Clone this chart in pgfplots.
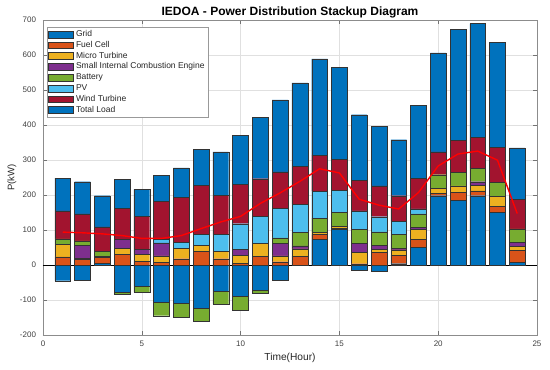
\documentclass[border=0pt]{standalone}
\usepackage{fontspec}
\setmainfont{Liberation Sans}
\usepackage{pgfplots}
\usepackage{pgfplotstable}
\pgfplotsset{compat=1.18}
\definecolor{cGrid}{HTML}{0072BD}
\definecolor{cFC}{HTML}{D95319}
\definecolor{cMT}{HTML}{EDB120}
\definecolor{cSICE}{HTML}{7E2F8E}
\definecolor{cBat}{HTML}{77AC30}
\definecolor{cPV}{HTML}{4DBEEE}
\definecolor{cWind}{HTML}{A2142F}
\definecolor{edge}{HTML}{333333}

\pgfplotstableread{
h gp fc mt sice bat pv wind load gn bn
1 0 23.5 36.5 0 14.5 0 80 94 -45 0
2 0 17 3 36 13 0 77 92 -42.5 0
3 4 18 2 0 16 0 69 89 0 0
4 0 31 16 26 0 0 88.5 84 -78.4 -4.6
5 0 10.5 19.5 14 0 0 96 76 -60 -17
6 0 7.6 18.4 37 0 10.6 107.4 76 -106 -39
7 0 18 29 0 0 17 129.5 84 -108.6 -39.4
8 0 39.7 16 0 0 32 139 104 -124.6 -37.4
9 0 18 21.7 0 0 47.3 113 123 -75.5 -36.5
10 0 5 23 17 0 73 113 139 -90 -39.5
11 0 25.5 36 0 0 78 107 176 -71 -9
12 0 9.4 17 35 16 84 104.5 206 -42.5 0
13 0 25.5 20.5 8.7 39 80 108 239 0 0
14 73 14 7 0 40 76.5 103.5 275 0 0
15 101 3 5.6 0 40.4 63 89 263 0 0
16 0 3.7 33 25.5 39.5 53 86.7 188 -14 0
17 0 36 9 11.7 37.7 43.6 87.8 171 -17 0
18 3.7 24.3 15.5 3.5 39.8 37.8 73.4 160 0 0
19 50 23.6 27.4 6.6 38.4 14.5 88 207 0 0
20 198 7 15 0 38 0 65 283 0 0
21 184 22.8 19 0 39.2 0 91 317 0 0
22 198 13.6 16 10.4 38.7 0 87.8 325.5 0 0
23 151 17 28 0 40 0 101 299.5 0 0
24 7.6 34 11.6 11.4 38.7 0 84 147 0 0
}\data

\pgfplotsset{
  common/.style={
    width=494pt, height=315pt, scale only axis,
    xmin=0, xmax=25, ymin=-200, ymax=700,
    bar width=0.8,
  },
  bars/.style={draw=edge, line width=0.4pt, fill=#1},
}

\begin{document}
\begin{tikzpicture}
\path[use as bounding box] (-43pt,-35pt) rectangle (507pt,335pt);
\begin{axis}[common, ybar stacked,
  xtick={0,5,...,25}, ytick={-200,-100,...,700},
  grid=major, major grid style={black!12, line width=0.4pt},
  axis line style={black!45, line width=0.5pt},
  tick style={black!55, line width=0.4pt}, major tick length=4pt,
  tick align=inside,
  /pgf/number format/assume math mode=true,
  tick label style={font=\fontsize{8}{9.5}\selectfont, text=black!75},
  yticklabel style={xshift=-3.5pt},
  xticklabel style={yshift=-2pt},
  extra y ticks={0}, extra y tick labels={},
  extra y tick style={grid=major, major grid style={black, line width=0.5pt}, major tick length=0pt},
  xlabel={Time(Hour)}, ylabel={P(kW)},
  title={IEDOA - Power Distribution Stackup Diagram},
  every axis title/.style={at={(axis description cs:0.5,1)}, anchor=base, yshift=4.5pt, font=\bfseries\fontsize{12}{14}\selectfont},
  every axis x label/.style={at={(axis description cs:0.5,0)}, anchor=base, yshift=-25.7pt, font=\fontsize{10.2}{12}\selectfont, text=black!85},
  every axis y label/.style={at={(axis description cs:-0.0628,0.5)}, rotate=90, anchor=center, font=\fontsize{9.5}{11}\selectfont, text=black!85},
  legend image code/.code={\draw[#1] (0pt,-3.35pt) rectangle (25pt,3.35pt);},
  legend cell align=left,
  legend style={at={(axis description cs:0.0075,0.977)}, anchor=north west,
    draw=black!40, fill=white, line width=0.5pt,
    font=\fontsize{8.5}{10}\selectfont, text=black!85,
    inner xsep=1.5pt, inner ysep=1.5pt, row sep=0pt,
    nodes={text height=6.3pt, text depth=2pt, inner ysep=1.25pt, inner xsep=2.2pt}},
]
\addplot[bars=cGrid] table[x=h, y=gp] {\data};
\addplot[bars=cFC] table[x=h, y=fc] {\data};
\addplot[bars=cMT] table[x=h, y=mt] {\data};
\addplot[bars=cSICE] table[x=h, y=sice] {\data};
\addplot[bars=cBat] table[x=h, y=bat] {\data};
\addplot[bars=cPV] table[x=h, y=pv] {\data};
\addplot[bars=cWind] table[x=h, y=wind] {\data};
\addplot[bars=cGrid] table[x=h, y=load] {\data};
\legend{Grid, Fuel Cell, Micro Turbine, Small Internal Combustion Engine, Battery, PV, Wind Turbine, Total Load}
\end{axis}
\begin{axis}[common, ybar stacked, hide axis]
\addplot[bars=cGrid] table[x=h, y=gn] {\data};
\addplot[bars=cBat] table[x=h, y=bn] {\data};
\end{axis}
\begin{axis}[common, hide axis]
\addplot[red, line width=1.4pt, no marks] table[x=h, y=load] {\data};
\end{axis}
\end{tikzpicture}
\end{document}
